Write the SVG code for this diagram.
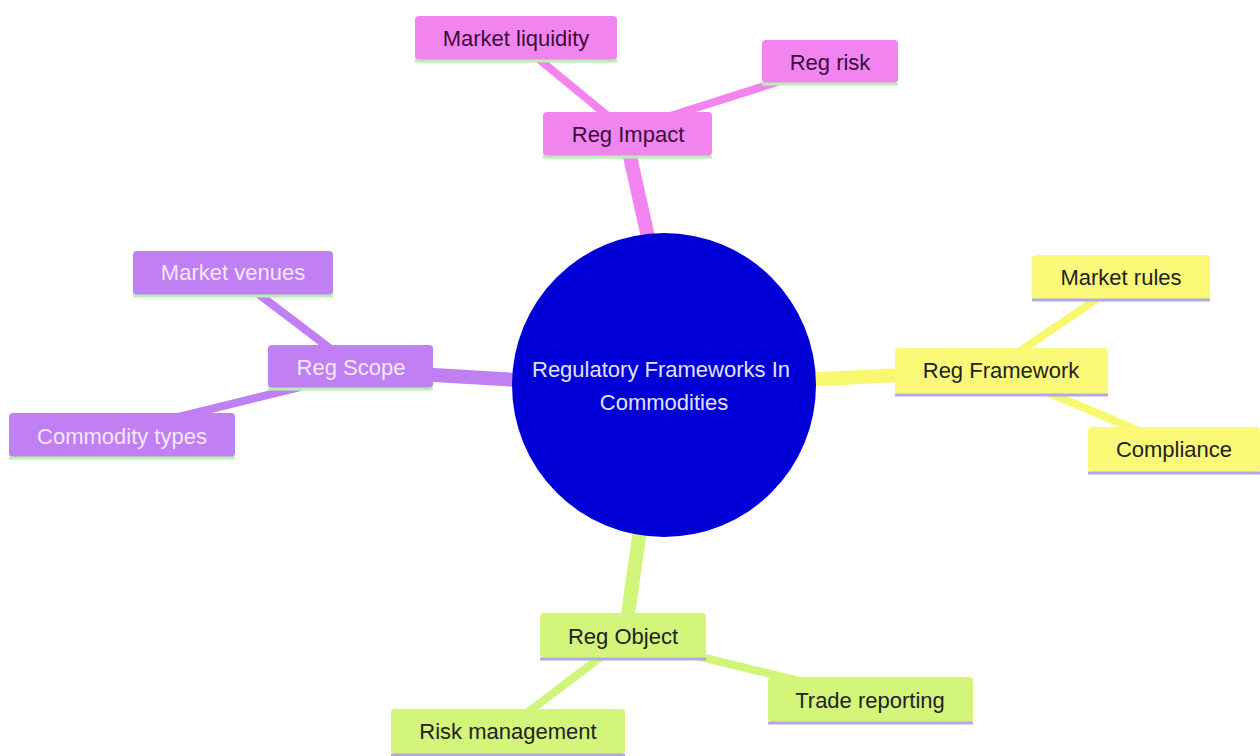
<svg xmlns="http://www.w3.org/2000/svg" width="1260" height="756" viewBox="0 0 1260 756">
<style>
text{font-family:"Liberation Sans",Arial,sans-serif;font-size:22px;text-anchor:middle;dominant-baseline:central}
.e{fill:none;stroke-linecap:butt}
.l1{stroke-width:14}
.l2{stroke-width:8}
.pk{stroke:#f284f0}
.pu{stroke:#c07ff2}
.ye{stroke:#f8f870}
.gr{stroke:#d0f578}
.npk rect{fill:#f284f0}
.npu rect{fill:#c07ff2}
.nye rect{fill:#fafa78}
.ngr rect{fill:#d2f57a}
.npk text{fill:#3a0c3a}
.npu text{fill:#f4e8ff}
.nye text,.ngr text{fill:#222222}
.ulg{stroke:#b8f0b0;stroke-width:3}
.ulv{stroke:#b0a8e8;stroke-width:3}
</style>
<rect width="1260" height="756" fill="#ffffff"/>
<g id="connectors">
  <line class="e l1 pk" x1="625" y1="134" x2="662" y2="300"/>
  <line class="e l2 pk" x1="518" y1="42" x2="614" y2="121"/>
  <line class="e l2 pk" x1="806" y1="73" x2="667" y2="117"/>
  <line class="e l1 pu" x1="350" y1="370" x2="600" y2="385"/>
  <line class="e l2 pu" x1="240" y1="280" x2="340" y2="356"/>
  <line class="e l2 pu" x1="150" y1="424" x2="300" y2="387"/>
  <line class="e l1 ye" x1="740" y1="383" x2="1000" y2="370"/>
  <line class="e l2 ye" x1="1110" y1="290" x2="1010" y2="358"/>
  <line class="e l2 ye" x1="1160" y1="440" x2="1040" y2="389"/>
  <line class="e l1 gr" x1="625" y1="635" x2="650" y2="460"/>
  <line class="e l2 gr" x1="680" y1="652" x2="820" y2="686"/>
  <line class="e l2 gr" x1="610" y1="650" x2="515" y2="722"/>
</g>
<g id="root">
  <circle cx="664" cy="385" r="152" fill="#0000d6"/>
  <text x="661" y="369" fill="#e2e2ff" font-size="22.5">Regulatory Frameworks In</text>
  <text x="664" y="402" fill="#e2e2ff" font-size="22.5">Commodities</text>
</g>
<g id="reg-impact" class="npk">
  <rect x="543" y="112" width="169" height="44" rx="4"/>
  <line class="ulg" x1="543" y1="157" x2="712" y2="157"/>
  <text x="628" y="134">Reg Impact</text>
</g>
<g id="market-liquidity" class="npk">
  <rect x="415" y="16" width="202" height="44" rx="4"/>
  <line class="ulg" x1="415" y1="61" x2="617" y2="61"/>
  <text x="516" y="38">Market liquidity</text>
</g>
<g id="reg-risk" class="npk">
  <rect x="762" y="40" width="136" height="43" rx="4"/>
  <line class="ulg" x1="762" y1="84" x2="898" y2="84"/>
  <text x="830" y="62">Reg risk</text>
</g>
<g id="reg-scope" class="npu">
  <rect x="268" y="345" width="165" height="43" rx="4"/>
  <line class="ulg" x1="268" y1="389" x2="433" y2="389"/>
  <text x="351" y="367">Reg Scope</text>
</g>
<g id="market-venues" class="npu">
  <rect x="133" y="251" width="200" height="44" rx="4"/>
  <line class="ulg" x1="133" y1="296" x2="333" y2="296"/>
  <text x="233" y="272">Market venues</text>
</g>
<g id="commodity-types" class="npu">
  <rect x="9" y="413" width="226" height="44" rx="4"/>
  <line class="ulg" x1="9" y1="458" x2="235" y2="458"/>
  <text x="122" y="436">Commodity types</text>
</g>
<g id="reg-framework" class="nye">
  <rect x="895" y="348" width="213" height="46" rx="4"/>
  <line class="ulv" x1="895" y1="395" x2="1108" y2="395"/>
  <text x="1001" y="370">Reg Framework</text>
</g>
<g id="market-rules" class="nye">
  <rect x="1032" y="255" width="178" height="45" rx="4"/>
  <line class="ulv" x1="1032" y1="300" x2="1210" y2="300"/>
  <text x="1121" y="277">Market rules</text>
</g>
<g id="compliance" class="nye">
  <rect x="1088" y="427" width="172" height="45" rx="4"/>
  <line class="ulv" x1="1088" y1="473" x2="1260" y2="473"/>
  <text x="1174" y="449">Compliance</text>
</g>
<g id="reg-object" class="ngr">
  <rect x="540" y="613" width="166" height="45" rx="4"/>
  <line class="ulv" x1="540" y1="659" x2="706" y2="659"/>
  <text x="623" y="636">Reg Object</text>
</g>
<g id="trade-reporting" class="ngr">
  <rect x="768" y="677" width="205" height="45" rx="4"/>
  <line class="ulv" x1="768" y1="723" x2="973" y2="723"/>
  <text x="870" y="700">Trade reporting</text>
</g>
<g id="risk-management" class="ngr">
  <rect x="391" y="709" width="234" height="45" rx="4"/>
  <line class="ulv" x1="391" y1="755" x2="625" y2="755"/>
  <text x="508" y="731">Risk management</text>
</g>
</svg>
